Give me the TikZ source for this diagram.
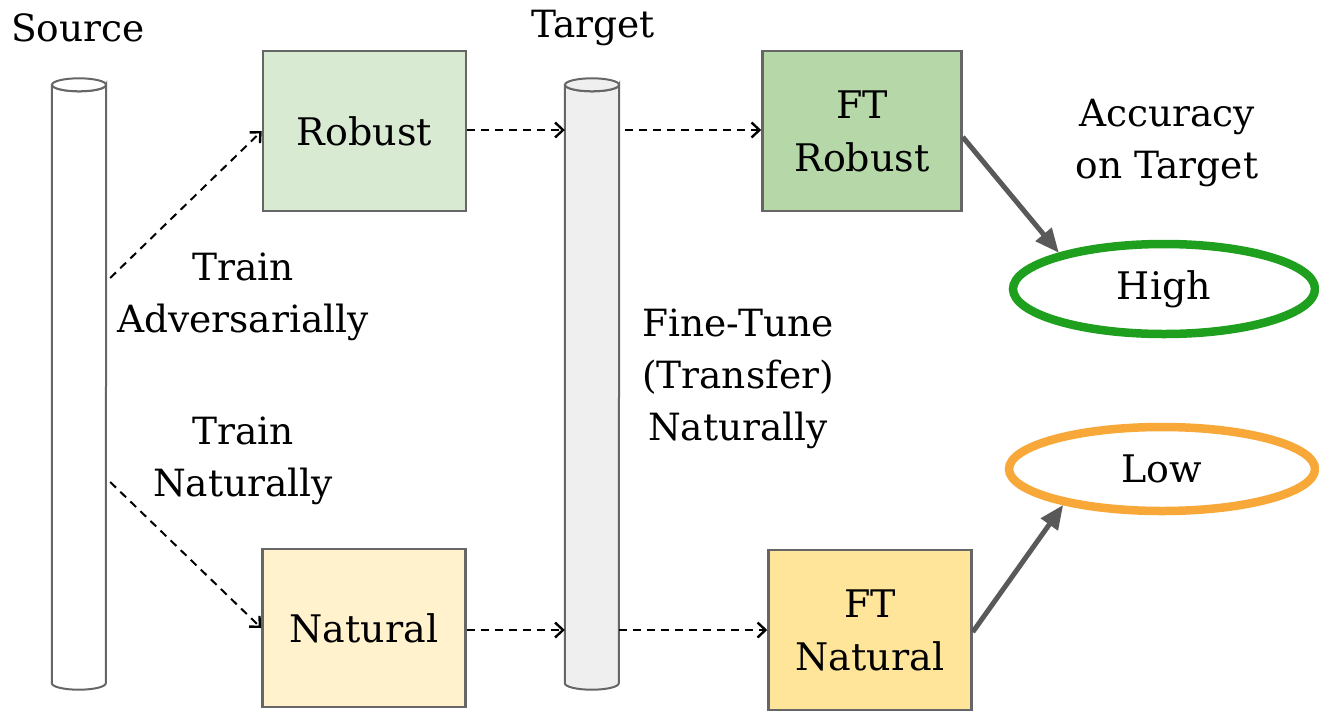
\documentclass[tikz,border=0pt]{standalone}
\usepackage{fontspec}
\setmainfont{DejaVu Serif}
\usetikzlibrary{arrows.meta,shapes.geometric}

\definecolor{edgegray}{HTML}{666666}
\definecolor{arrowgray}{HTML}{595959}
\definecolor{robustfill}{HTML}{D9EAD3}
\definecolor{ftrobustfill}{HTML}{B6D7A8}
\definecolor{naturalfill}{HTML}{FFF2CC}
\definecolor{ftnaturalfill}{HTML}{FFE599}
\definecolor{targetfill}{HTML}{EFEFEF}
\definecolor{highgreen}{RGB}{30,160,30}
\definecolor{loworange}{RGB}{247,168,56}

\begin{document}
\begin{tikzpicture}[x=1pt,y=-1pt,
  box/.style={draw=edgegray,line width=2.5pt,inner sep=0pt,align=center,
    minimum width=203pt,minimum height=160pt,font=\fontsize{38}{53}\selectfont},
  lbl/.style={align=center,inner sep=0pt,font=\fontsize{37.5}{52}\selectfont},
  head/.style={inner sep=0pt,font=\fontsize{37.5}{40}\selectfont},
  colbody/.style={inner sep=0pt,minimum width=54pt,minimum height=598pt},
  cyl/.style={draw=edgegray,line width=2pt},
  flow/.style={draw=black,line width=2pt,dash pattern=on 8pt off 6pt,
    -{Straight Barb[length=8pt,width=15pt,line width=2.4pt]}},
  result/.style={ellipse,inner sep=0pt,line width=8.5pt,
    font=\fontsize{38}{40}\selectfont},
  outcome/.style={draw=arrowgray,line width=5pt,
    -{Triangle[length=24pt,width=20pt]}}
]
\useasboundingbox (0,0) rectangle (1319,710);

% headings
\node[head] (srclabel) at (78,28) {Source};
\node[head] (tgtlabel) at (593,28) {Target};

% source and target data columns
\node[colbody] (src) at (79,384) {};
\node[colbody] (tgt) at (592,384) {};
\foreach \c/\f in {src/white,tgt/targetfill}{
  \filldraw[cyl,fill=\f] (\c.north west) -- (\c.south west)
    arc[start angle=180,end angle=0,x radius=27,y radius=6.5]
    -- (\c.north east)
    arc[start angle=0,end angle=180,x radius=27,y radius=6.5] -- cycle;
  \draw[cyl,fill=\f] (\c.north) ellipse[x radius=27,y radius=6.5];
}

% model boxes
\node[box,fill=robustfill] (robust) at (364.5,131) {Robust};
\node[box,fill=ftrobustfill,minimum width=199pt] (ftrobust) at (862,131) {FT\\Robust};
\node[box,fill=naturalfill,minimum height=158pt] (natural) at (364,628) {Natural};
\node[box,fill=ftnaturalfill,minimum height=160pt] (ftnatural) at (870,630) {FT\\Natural};

% outcomes
\node[head,align=center,font=\fontsize{37.5}{52}\selectfont] (acc) at (1167,143) {Accuracy\\on Target};
\node[result,draw=highgreen,minimum width=302pt,minimum height=90pt] (high) at (1164,289) {High};
\node[result,draw=loworange,minimum width=306pt,minimum height=84pt] (low) at (1162,469) {Low};

% step labels
\node[lbl] (advlabel) at (243,297) {Train\\Adversarially};
\node[lbl] (natlabel) at (243,461) {Train\\Naturally};
\node[lbl] (ftlabel) at (738,379) {Fine-Tune\\(Transfer)\\Naturally};

% training and transfer flows
\coordinate (srcup) at ([yshift=106pt]src.east);
\coordinate (srcdown) at ([yshift=-98pt]src.east);
\draw[flow] ([xshift=4pt]srcup) -- (robust.west);
\draw[flow] ([xshift=4pt]srcdown) -- (natural.west);
\draw[flow] (robust.east |- 0,130) -- (tgt.west |- 0,130);
\draw[flow] ([xshift=6pt]tgt.east |- 0,130) -- (ftrobust.west |- 0,130);
\draw[flow] (natural.east |- 0,630) -- (tgt.west |- 0,630);
\draw[flow] (tgt.east |- 0,630) -- (ftnatural.west |- 0,630);

% accuracy outcomes
\draw[outcome] ([yshift=-6pt]ftrobust.east) -- (high.161);
\draw[outcome] ([yshift=-2pt]ftnatural.east) -- (low.200);
\end{tikzpicture}
\end{document}
